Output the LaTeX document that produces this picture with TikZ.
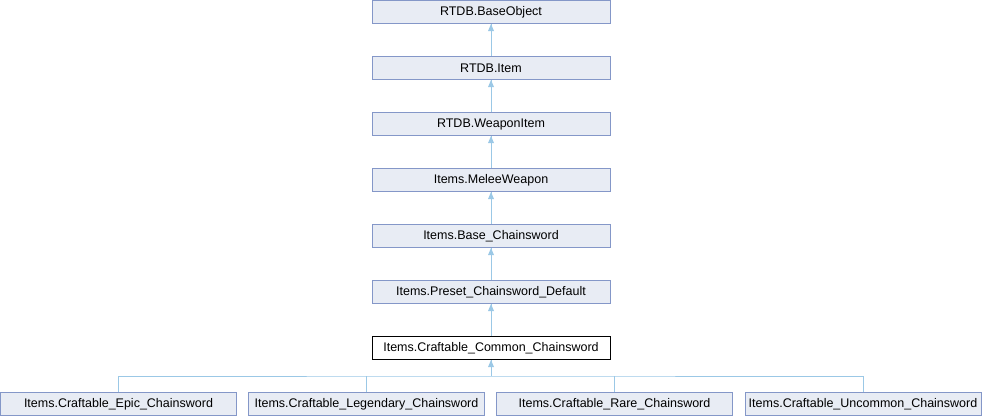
\documentclass[tikz,border=0pt]{standalone}
\usepackage{fontspec}
\setmainfont{Liberation Sans}
\definecolor{boxfill}{RGB}{232,236,244}
\definecolor{boxline}{RGB}{132,151,200}
\definecolor{linkline}{RGB}{155,200,230}
\tikzset{
	klass/.style={draw=boxline, fill=boxfill, line width=1pt, minimum width=238pt, minimum height=23pt, inner sep=0pt, font=\fontsize{12.5}{15}\selectfont},
	current/.style={klass, draw=black, fill=white},
	leaf/.style={klass, minimum width=236pt},
	link/.style={draw=linkline, line width=1pt}
}

\begin{document}
\begin{tikzpicture}[x=1pt, y=-1pt]
			\useasboundingbox (0,0) rectangle (982,416);
			\node [klass] (baseobject) at (491,12) {RTDB.BaseObject};
			\node [klass] (item) at (491,68) {RTDB.Item};
			\node [klass] (weaponitem) at (491,124) {RTDB.WeaponItem};
			\node [klass] (melee) at (491,180) {Items.MeleeWeapon};
			\node [klass] (basechain) at (491,236) {Items.Base\_Chainsword};
			\node [klass] (preset) at (491,292) {Items.Preset\_Chainsword\_Default};
			\node [current] (common) at (491,348) {Items.Craftable\_Common\_Chainsword};
			\node [leaf] (epic) at (118.5,404) {Items.Craftable\_Epic\_Chainsword};
			\node [leaf] (legendary) at (366.5,404) {Items.Craftable\_Legendary\_Chainsword};
			\node [leaf] (rare) at (614.5,404) {Items.Craftable\_Rare\_Chainsword};
			\node [leaf] (uncommon) at (863,404) {Items.Craftable\_Uncommon\_Chainsword};
			\draw [link] (item.north) -- (baseobject.south);
			\fill [linkline] (baseobject.south) -- ++(-3,7) -- ++(6,0) -- cycle;
			\draw [link] (weaponitem.north) -- (item.south);
			\fill [linkline] (item.south) -- ++(-3,7) -- ++(6,0) -- cycle;
			\draw [link] (melee.north) -- (weaponitem.south);
			\fill [linkline] (weaponitem.south) -- ++(-3,7) -- ++(6,0) -- cycle;
			\draw [link] (basechain.north) -- (melee.south);
			\fill [linkline] (melee.south) -- ++(-3,7) -- ++(6,0) -- cycle;
			\draw [link] (preset.north) -- (basechain.south);
			\fill [linkline] (basechain.south) -- ++(-3,7) -- ++(6,0) -- cycle;
			\draw [link] (common.north) -- (preset.south);
			\fill [linkline] (preset.south) -- ++(-3,7) -- ++(6,0) -- cycle;
			\coordinate (bus) at (491,376);
			\draw [link] (common.south) -- (bus);
			\fill [linkline] (common.south) -- ++(-3,7) -- ++(6,0) -- cycle;
			\draw [link] (epic.north) |- (bus) -| (uncommon.north);
			\draw [link] (legendary.north) -- (legendary.north |- bus);
			\draw [link] (rare.north) -- (rare.north |- bus);
		\end{tikzpicture}
\end{document}
